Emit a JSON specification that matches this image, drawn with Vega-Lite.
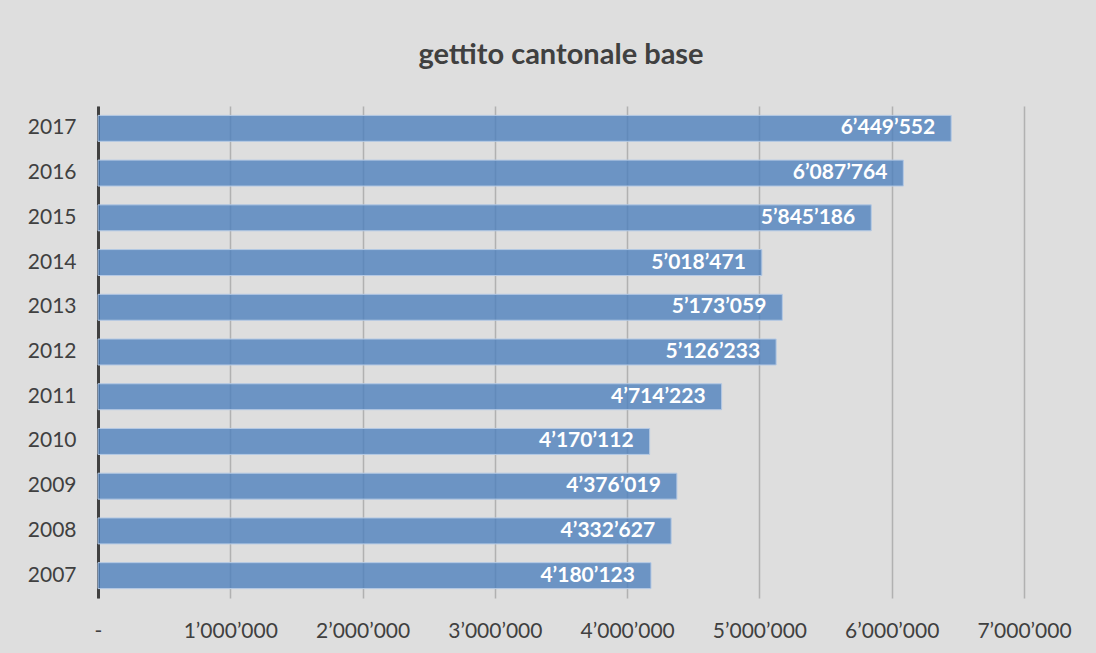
{
  "$schema": "https://vega.github.io/schema/vega-lite/v6.json",
  "autosize": "none",
  "width": 926,
  "height": 492,
  "padding": {"left": 98, "top": 106, "right": 72, "bottom": 55},
  "background": "#dedede",
  "config": {
    "view": {"stroke": null},
    "font": "Lato",
    "locale": {"number": {"decimal": ".", "thousands": "’", "grouping": [3], "currency": ["", ""]}}
  },
  "title": {
    "text": "gettito cantonale base",
    "fontSize": 29,
    "fontWeight": "bold",
    "color": "#404040",
    "font": "Lato",
    "offset": 36,
    "anchor": "middle"
  },
  "data": {
    "values": [
      {"anno": "2007", "gettito": 4180123},
      {"anno": "2008", "gettito": 4332627},
      {"anno": "2009", "gettito": 4376019},
      {"anno": "2010", "gettito": 4170112},
      {"anno": "2011", "gettito": 4714223},
      {"anno": "2012", "gettito": 5126233},
      {"anno": "2013", "gettito": 5173059},
      {"anno": "2014", "gettito": 5018471},
      {"anno": "2015", "gettito": 5845186},
      {"anno": "2016", "gettito": 6087764},
      {"anno": "2017", "gettito": 6449552}
    ]
  },
  "encoding": {
    "y": {
      "field": "anno",
      "type": "ordinal",
      "sort": "descending",
      "title": null,
      "scale": {"paddingInner": 0.42, "paddingOuter": 0.21},
      "axis": {
        "domain": true,
        "domainColor": "#404040",
        "domainWidth": 3,
        "ticks": false,
        "labelFontSize": 21,
        "labelColor": "#404040",
        "labelPadding": 22,
        "grid": false
      }
    },
    "x": {
      "field": "gettito",
      "type": "quantitative",
      "title": null,
      "scale": {"domain": [0, 7000000], "nice": false},
      "axis": {
        "values": [0, 1000000, 2000000, 3000000, 4000000, 5000000, 6000000, 7000000],
        "labelExpr": "datum.value == 0 ? '-' : format(datum.value, ',')",
        "labelOverlap": false,
        "labelBound": false,
        "labelFlush": false,
        "domain": false,
        "ticks": false,
        "grid": true,
        "gridColor": "#8c8c8c",
        "gridOpacity": 0.55,
        "gridWidth": 1.5,
        "labelFontSize": 21,
        "labelColor": "#404040",
        "labelPadding": 22
      }
    }
  },
  "layer": [
    {
      "mark": {"type": "bar", "color": "#4f81bd", "fillOpacity": 0.8, "stroke": "#b4c9e4", "strokeWidth": 1}
    },
    {
      "mark": {"type": "text", "align": "right", "baseline": "middle", "dx": -16, "fontSize": 21, "fontWeight": "bold", "color": "white"},
      "encoding": {
        "text": {"field": "gettito", "type": "quantitative", "format": ","}
      }
    }
  ]
}
